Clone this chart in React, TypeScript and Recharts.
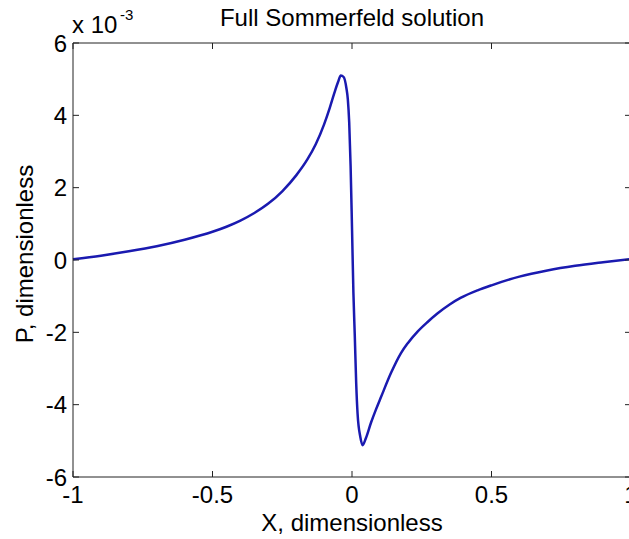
import { LineChart, Line, XAxis, YAxis, ReferenceLine } from 'recharts';

// X positions (dimensionless) and pressure values in units of 1e-3
const xPos = [
  -1.0, -0.9, -0.8, -0.7, -0.6, -0.5, -0.45, -0.4, -0.35, -0.3, -0.25, -0.2, -0.16, -0.13,
  -0.1, -0.08, -0.064, -0.05, -0.04, -0.03, -0.02, -0.015, -0.01, -0.005, 0, 0.005, 0.01,
  0.015, 0.02, 0.03, 0.038, 0.05, 0.068, 0.085, 0.104, 0.14, 0.175, 0.2, 0.235, 0.27, 0.306,
  0.35, 0.389, 0.45, 0.5, 0.6, 0.7, 0.8, 0.9, 1.0,
];
const pressure = [
  0.02, 0.12, 0.24, 0.38, 0.56, 0.78, 0.92, 1.09, 1.3, 1.56, 1.9, 2.34, 2.78, 3.2,
  3.75, 4.2, 4.6, 4.92, 5.1, 5.06, 4.75, 4.45, 3.8, 2.6, 0.9, -0.9, -2.1,
  -3.4, -4.25, -4.9, -5.12, -4.92, -4.5, -4.15, -3.79, -3.12, -2.58, -2.3, -1.98, -1.72, -1.48,
  -1.23, -1.05, -0.84, -0.7, -0.46, -0.29, -0.16, -0.06, 0.03,
];

const xTicks = [-1, -0.5, 0, 0.5, 1];
const yTicks = [-6, -4, -2, 0, 2, 4, 6];

const data = xPos.map((x, i) => ({ x, p: pressure[i] }));

const W = 640;
const H = 539;
const LEFT = 73;
const RIGHT = 631;
const TOP = 43;
const BOTTOM = 477;
const FONT = '"Liberation Sans", Arial, sans-serif';
const FS = 24;
const INK = '#222';

const XTick = ({ x, payload }: any) => (
  <g>
    <line x1={x} x2={x} y1={BOTTOM} y2={BOTTOM - 6} stroke={INK} />
    <line x1={x} x2={x} y1={TOP} y2={TOP + 6} stroke={INK} />
    <text x={x} y={503} textAnchor="middle" fontFamily={FONT} fontSize={FS} fill="#000">
      {payload.value}
    </text>
  </g>
);

const YTick = ({ y, payload }: any) => (
  <g>
    <line x1={LEFT} x2={LEFT + 6} y1={y} y2={y} stroke={INK} />
    <line x1={RIGHT} x2={RIGHT - 6} y1={y} y2={y} stroke={INK} />
    <text x={67} y={y} dy="0.36em" textAnchor="end" fontFamily={FONT} fontSize={FS} fill="#000">
      {payload.value}
    </text>
  </g>
);

export default function App() {
  return (
    <div style={{ position: 'absolute', left: 0, top: 0, width: 629, height: 539, overflow: 'hidden', background: '#fff' }}>
      <LineChart width={W} height={H} data={data} margin={{ top: TOP, right: W - RIGHT, bottom: 0, left: 0 }}>
        <XAxis
          dataKey="x"
          type="number"
          domain={[-1, 1]}
          ticks={xTicks}
          height={H - BOTTOM}
          stroke={INK}
          tickLine={false}
          tick={XTick}
          interval={0}
        />
        <YAxis
          type="number"
          domain={[-6, 6]}
          ticks={yTicks}
          width={LEFT}
          stroke={INK}
          tickLine={false}
          tick={YTick}
          interval={0}
        />
        <ReferenceLine y={6} stroke={INK} />
        <ReferenceLine x={1} stroke={INK} />
        <Line
          type="monotone"
          dataKey="p"
          stroke="#1a1ab0"
          strokeWidth={2.5}
          dot={false}
          isAnimationActive={false}
        />
      </LineChart>
      <svg width={W} height={H} style={{ position: 'absolute', left: 0, top: 0, pointerEvents: 'none' }}>
        <text x={(LEFT + RIGHT) / 2} y={26} textAnchor="middle" fontFamily={FONT} fontSize={FS} fill="#000">
          Full Sommerfeld solution
        </text>
        <text x={72} y={33} fontFamily={FONT} fontSize={FS} fill="#000">x 10</text>
        <text x={120} y={20} fontFamily={FONT} fontSize={15} fill="#000">-3</text>
        <text x={(LEFT + RIGHT) / 2} y={531} textAnchor="middle" fontFamily={FONT} fontSize={FS} fill="#000">
          X, dimensionless
        </text>
        <text
          x={33}
          y={254}
          textAnchor="middle"
          fontFamily={FONT}
          fontSize={FS}
          fill="#000"
          transform="rotate(-90 33 254)"
        >
          P, dimensionless
        </text>
      </svg>
    </div>
  );
}
